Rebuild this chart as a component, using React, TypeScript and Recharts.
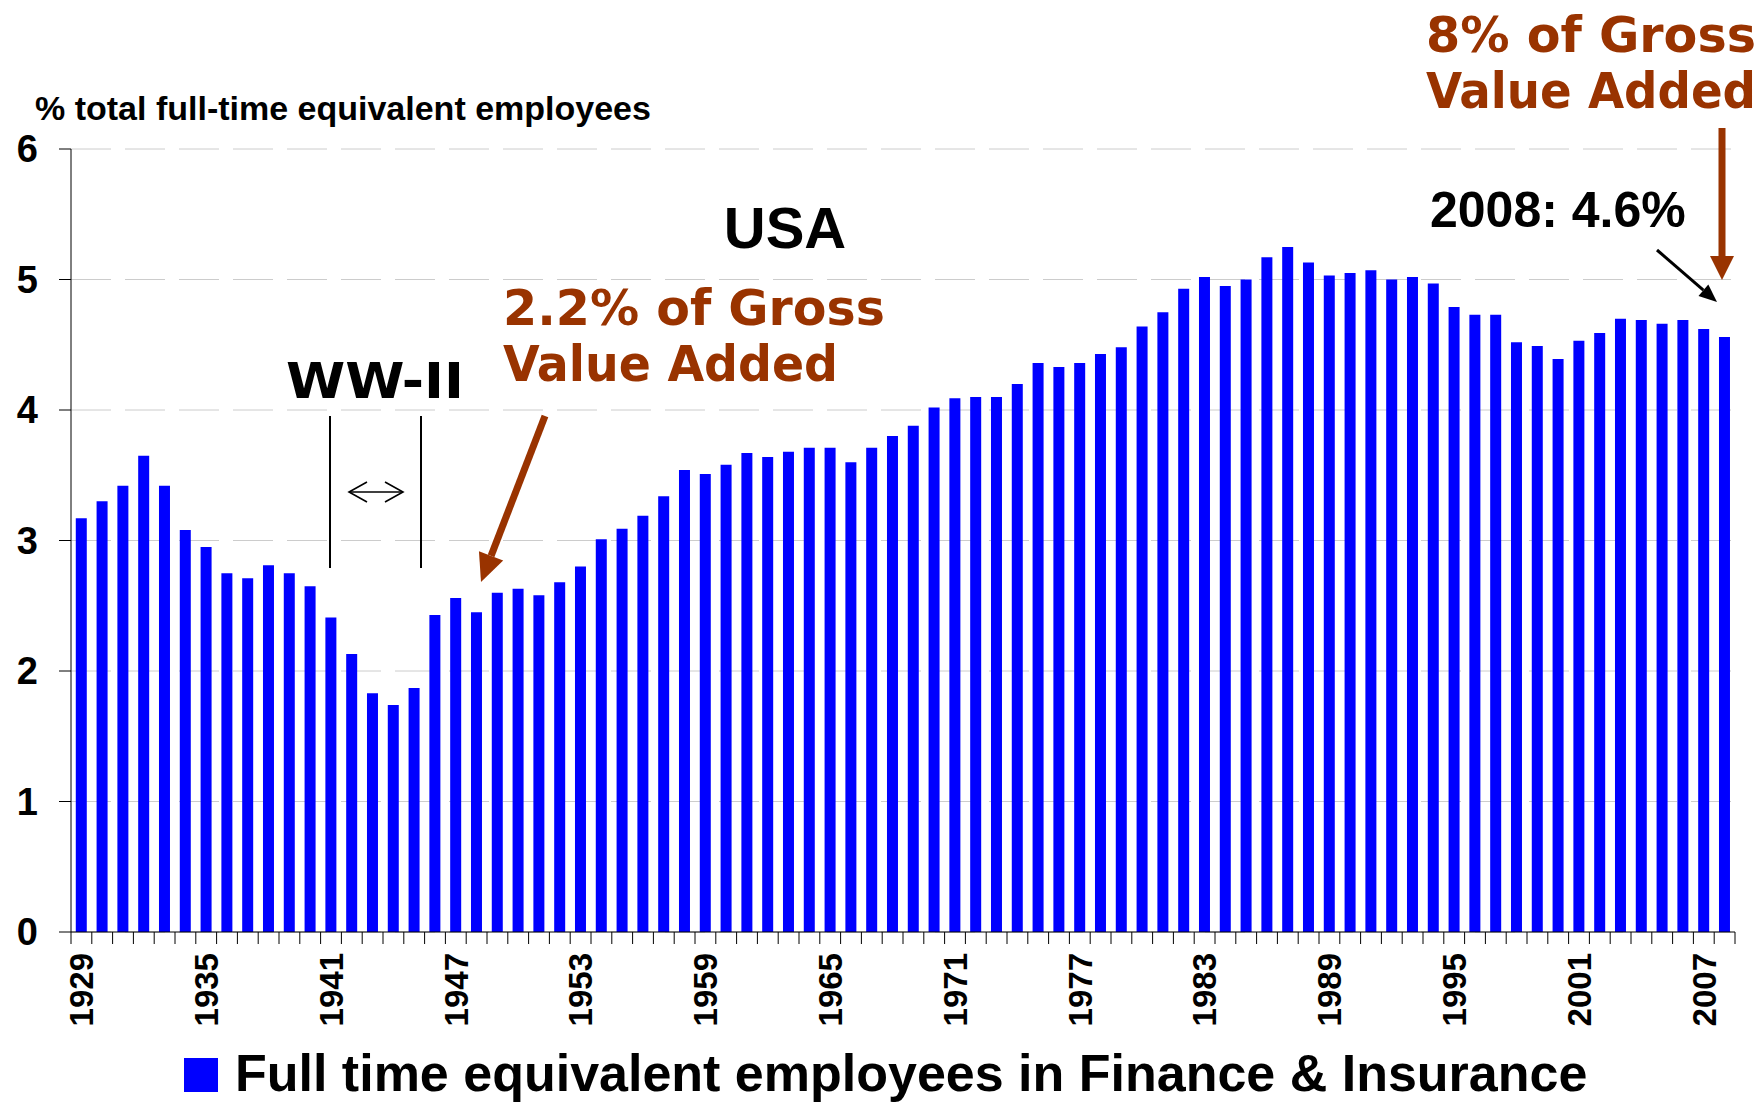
import { BarChart, Bar, XAxis, YAxis, CartesianGrid } from 'recharts'

const YEARS = [
  '1929', '1930', '1931', '1932', '1933', '1934', '1935', '1936', '1937', '1938',
  '1939', '1940', '1941', '1942', '1943', '1944', '1945', '1946', '1947', '1948',
  '1949', '1950', '1951', '1952', '1953', '1954', '1955', '1956', '1957', '1958',
  '1959', '1960', '1961', '1962', '1963', '1964', '1965', '1966', '1967', '1968',
  '1969', '1970', '1971', '1972', '1973', '1974', '1975', '1976', '1977', '1978',
  '1979', '1980', '1981', '1982', '1983', '1984', '1985', '1986', '1987', '1988',
  '1989', '1990', '1991', '1992', '1993', '1994', '1995', '1996', '1997', '1998',
  '1999', '2000', '2001', '2002', '2003', '2004', '2005', '2006', '2007', '2008'
]

// % of total full-time equivalent employees, finance & insurance
const FTE_SHARE = [
  3.17, 3.30, 3.42, 3.65, 3.42, 3.08, 2.95, 2.75, 2.71, 2.81,
  2.75, 2.65, 2.41, 2.13, 1.83, 1.74, 1.87, 2.43, 2.56, 2.45,
  2.60, 2.63, 2.58, 2.68, 2.80, 3.01, 3.09, 3.19, 3.34, 3.54,
  3.51, 3.58, 3.67, 3.64, 3.68, 3.71, 3.71, 3.60, 3.71, 3.80,
  3.88, 4.02, 4.09, 4.10, 4.10, 4.20, 4.36, 4.33, 4.36, 4.43,
  4.48, 4.64, 4.75, 4.93, 5.02, 4.95, 5.00, 5.17, 5.25, 5.13,
  5.03, 5.05, 5.07, 5.00, 5.02, 4.97, 4.79, 4.73, 4.73, 4.52,
  4.49, 4.39, 4.53, 4.59, 4.70, 4.69, 4.66, 4.69, 4.62, 4.56
]

const LABEL_YEARS = [
  '1929', '1935', '1941', '1947', '1953', '1959', '1965',
  '1971', '1977', '1983', '1989', '1995', '2001', '2007'
]

const Y_TICKS = [0, 1, 2, 3, 4, 5, 6]

const data = YEARS.map((year, i) => ({ year, value: FTE_SHARE[i] }))

const WIDTH = 1763
const HEIGHT = 1102
const MARGIN = { top: 149, right: 28, bottom: 0, left: 0 }
const Y_AXIS_W = 71
const X_AXIS_H = 170
const BAND = (WIDTH - MARGIN.left - MARGIN.right - Y_AXIS_W) / YEARS.length

const BLUE = '#0000ff'
const BROWN = '#993300'
const SANS = '"Liberation Sans", Arial, sans-serif'
const TAHOMA = 'Tahoma, "DejaVu Sans Condensed", "DejaVu Sans", sans-serif'

// Excel style: tick marks between categories, label every 6th year
function YearTick({ x, y, payload, index }: any) {
  const isLast = index === YEARS.length - 1
  const ly = y + 21
  return (
    <g>
      <line x1={x - BAND / 2} x2={x - BAND / 2} y1={y} y2={y + 12} stroke="#000" />
      {isLast && <line x1={x + BAND / 2} x2={x + BAND / 2} y1={y} y2={y + 12} stroke="#000" />}
      {LABEL_YEARS.includes(payload.value) && (
        <text
          x={x}
          y={ly}
          dy="0.36em"
          transform={`rotate(-90, ${x}, ${ly})`}
          textAnchor="end"
          fontFamily={SANS}
          fontWeight="bold"
          fontSize={33}
          fill="#000"
        >
          {payload.value}
        </text>
      )}
    </g>
  )
}

function Arrow({ x1, y1, x2, y2, color, width, head, headW }: any) {
  const a = Math.atan2(y2 - y1, x2 - x1)
  const bx = x2 - head * Math.cos(a)
  const by = y2 - head * Math.sin(a)
  const px = Math.sin(a) * headW / 2
  const py = -Math.cos(a) * headW / 2
  return (
    <g>
      <line x1={x1} y1={y1} x2={bx} y2={by} stroke={color} strokeWidth={width} />
      <polygon points={`${x2},${y2} ${bx + px},${by + py} ${bx - px},${by - py}`} fill={color} />
    </g>
  )
}

function Annotations() {
  return (
    <svg
      width={WIDTH}
      height={HEIGHT}
      style={{ position: 'absolute', left: 0, top: 0, pointerEvents: 'none' }}
    >
      <text x={35} y={120} fontFamily={SANS} fontWeight="bold" fontSize={34} fill="#000">
        % total full-time equivalent employees
      </text>

      <text x={785} y={248} textAnchor="middle" fontFamily={SANS} fontWeight="bold" fontSize={58} fill="#000">
        USA
      </text>

      {/* WW-II bracket */}
      <text x={286} y={398} fontFamily={TAHOMA} fontWeight="bold" fontSize={50} textLength={178} lengthAdjust="spacingAndGlyphs" fill="#000">
        WW-II
      </text>
      <line x1={330} x2={330} y1={416} y2={568} stroke="#000" strokeWidth={2} />
      <line x1={421} x2={421} y1={416} y2={568} stroke="#000" strokeWidth={2} />
      <g stroke="#000" strokeWidth={1.6} fill="none">
        <line x1={349} x2={403} y1={492} y2={492} />
        <polyline points="367,482 349,492 367,502" />
        <polyline points="385,482 403,492 385,502" />
      </g>

      {/* 1947 gross value added */}
      <text fontFamily={TAHOMA} fontWeight="bold" fontSize={50} fill={BROWN}>
        <tspan x={503} y={325} textLength={382} lengthAdjust="spacingAndGlyphs">2.2% of Gross</tspan>
      </text>
      <text fontFamily={TAHOMA} fontWeight="bold" fontSize={50} fill={BROWN}>
        <tspan x={503} y={381} textLength={335} lengthAdjust="spacingAndGlyphs">Value Added</tspan>
      </text>
      <Arrow x1={545} y1={416} x2={481} y2={582} color={BROWN} width={7} head={28} headW={26} />

      {/* 2008 gross value added */}
      <text fontFamily={TAHOMA} fontWeight="bold" fontSize={50} fill={BROWN}>
        <tspan x={1426} y={52} textLength={330} lengthAdjust="spacingAndGlyphs">8% of Gross</tspan>
      </text>
      <text fontFamily={TAHOMA} fontWeight="bold" fontSize={50} fill={BROWN}>
        <tspan x={1426} y={108} textLength={330} lengthAdjust="spacingAndGlyphs">Value Added</tspan>
      </text>
      <Arrow x1={1722} y1={128} x2={1722} y2={280} color={BROWN} width={7} head={24} headW={24} />

      <text x={1430} y={227} fontFamily={SANS} fontWeight="bold" fontSize={50} fill="#000">
        2008: 4.6%
      </text>
      <Arrow x1={1657} y1={250} x2={1717} y2={302} color="#000" width={3} head={18} headW={15} />

      {/* legend */}
      <rect x={184} y={1058} width={34} height={34} fill={BLUE} />
      <text x={235} y={1091} fontFamily={SANS} fontWeight="bold" fontSize={52} fill="#000">
        Full time equivalent employees in Finance &amp; Insurance
      </text>
    </svg>
  )
}

export default function App() {
  return (
    <div style={{ position: 'absolute', left: 0, top: 0, width: WIDTH, height: HEIGHT, background: '#fff' }}>
      <BarChart width={WIDTH} height={HEIGHT} data={data} margin={MARGIN} barCategoryGap="23%">
        <CartesianGrid vertical={false} stroke="#cccccc" strokeDasharray="40 14" />
        <XAxis
          dataKey="year"
          interval={0}
          height={X_AXIS_H}
          tickLine={false}
          tickSize={0}
          tickMargin={0}
          axisLine={{ stroke: '#000' }}
          tick={(props: any) => <YearTick {...props} />}
        />
        <YAxis
          width={Y_AXIS_W}
          domain={[0, 6]}
          ticks={Y_TICKS}
          interval={0}
          tickSize={12}
          tickMargin={21}
          axisLine={{ stroke: '#000' }}
          tickLine={{ stroke: '#000' }}
          tick={{ fontSize: 38, fontWeight: 'bold', fill: '#000', fontFamily: SANS }}
        />
        <Bar dataKey="value" fill={BLUE} isAnimationActive={false} />
      </BarChart>
      <Annotations />
    </div>
  )
}
